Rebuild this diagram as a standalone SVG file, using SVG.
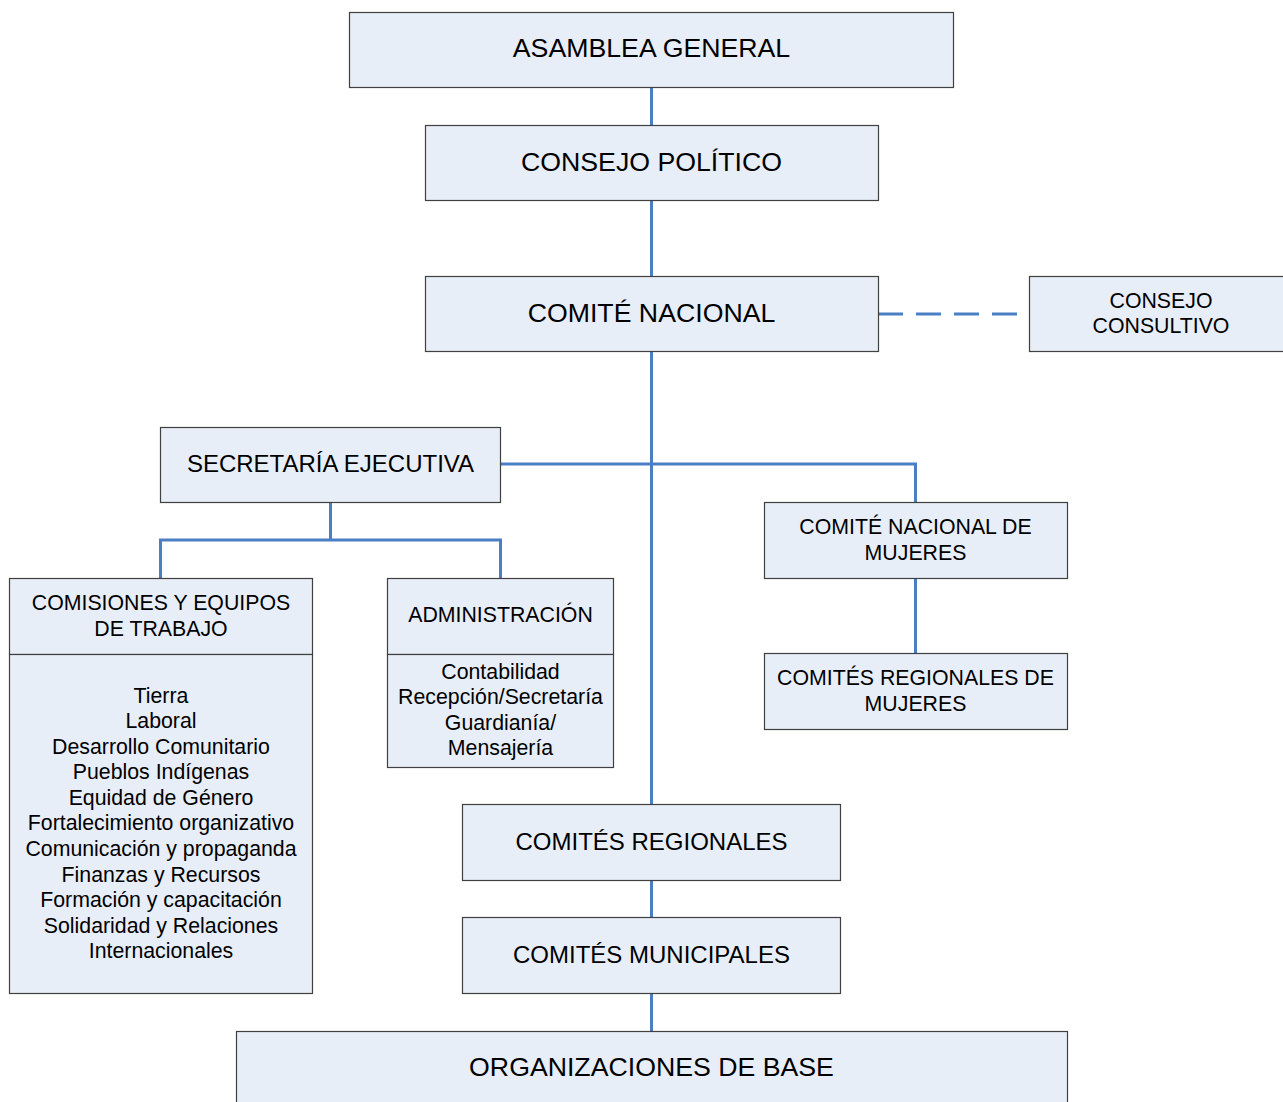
<svg xmlns="http://www.w3.org/2000/svg" width="1283" height="1102" viewBox="0 0 1283 1102">
<style>
.box{fill:#E8EEF7;stroke:#404040;stroke-width:1.2}
.con{fill:none;stroke:#4A7EC5;stroke-width:3}
text{font-family:"Liberation Sans",Arial,sans-serif;fill:#000;text-anchor:middle}
.t1{font-size:26.7px}
.t2{font-size:24px}
.t3{font-size:21.3px}
</style>
<rect width="1283" height="1102" fill="#FFFFFF"/>
<g id="connectors">
<line class="con" x1="651.5" y1="87" x2="651.5" y2="125"/>
<line class="con" x1="651.5" y1="200" x2="651.5" y2="276"/>
<line class="con" x1="651.5" y1="351" x2="651.5" y2="804"/>
<line class="con" x1="878" y1="314" x2="1028" y2="314" stroke-dasharray="25 13"/>
<polyline class="con" points="500,464 915.5,464 915.5,502"/>
<line class="con" x1="915.5" y1="578" x2="915.5" y2="653"/>
<line class="con" x1="330.5" y1="502" x2="330.5" y2="540"/>
<polyline class="con" points="160.5,578 160.5,540 500.5,540 500.5,578"/>
<line class="con" x1="651.5" y1="880" x2="651.5" y2="917"/>
<line class="con" x1="651.5" y1="993" x2="651.5" y2="1031"/>
</g>
<g id="asamblea-general">
<rect class="box" x="349.5" y="12.5" width="604" height="75"/>
<text class="t1" x="651.5" y="57">ASAMBLEA GENERAL</text>
</g>
<g id="consejo-politico">
<rect class="box" x="425.5" y="125.5" width="453" height="75"/>
<text class="t1" x="651.5" y="171">CONSEJO POLÍTICO</text>
</g>
<g id="comite-nacional">
<rect class="box" x="425.5" y="276.5" width="453" height="75"/>
<text class="t1" x="651.5" y="322">COMITÉ NACIONAL</text>
</g>
<g id="consejo-consultivo">
<rect class="box" x="1029.5" y="276.5" width="260" height="75"/>
<text class="t3" x="1161" y="307.5">CONSEJO</text>
<text class="t3" x="1161" y="332.5">CONSULTIVO</text>
</g>
<g id="secretaria-ejecutiva">
<rect class="box" x="160.5" y="427.5" width="340" height="75"/>
<text class="t2" x="330.5" y="471.5">SECRETARÍA EJECUTIVA</text>
</g>
<g id="comite-nacional-mujeres">
<rect class="box" x="764.5" y="502.5" width="303" height="76"/>
<text class="t3" x="915.5" y="534">COMITÉ NACIONAL DE</text>
<text class="t3" x="915.5" y="560">MUJERES</text>
</g>
<g id="comites-regionales-mujeres">
<rect class="box" x="764.5" y="653.5" width="303" height="76"/>
<text class="t3" x="915.5" y="685">COMITÉS REGIONALES DE</text>
<text class="t3" x="915.5" y="711">MUJERES</text>
</g>
<g id="comisiones">
<rect class="box" x="9.5" y="578.5" width="303" height="76"/>
<rect class="box" x="9.5" y="654.5" width="303" height="339"/>
<text class="t3" x="161" y="610">COMISIONES Y EQUIPOS</text>
<text class="t3" x="161" y="635.5">DE TRABAJO</text>
<text class="t3" x="161" y="702.5">Tierra</text>
<text class="t3" x="161" y="728">Laboral</text>
<text class="t3" x="161" y="753.6">Desarrollo Comunitario</text>
<text class="t3" x="161" y="779.2">Pueblos Indígenas</text>
<text class="t3" x="161" y="804.8">Equidad de Género</text>
<text class="t3" x="161" y="830.4">Fortalecimiento organizativo</text>
<text class="t3" x="161" y="856">Comunicación y propaganda</text>
<text class="t3" x="161" y="881.6">Finanzas y Recursos</text>
<text class="t3" x="161" y="907.2">Formación y capacitación</text>
<text class="t3" x="161" y="932.8">Solidaridad y Relaciones</text>
<text class="t3" x="161" y="958.4">Internacionales</text>
</g>
<g id="administracion">
<rect class="box" x="387.5" y="578.5" width="226" height="76"/>
<rect class="box" x="387.5" y="654.5" width="226" height="113"/>
<text class="t3" x="500.5" y="622">ADMINISTRACIÓN</text>
<text class="t3" x="500.5" y="678.5">Contabilidad</text>
<text class="t3" x="500.5" y="704">Recepción/Secretaría</text>
<text class="t3" x="500.5" y="729.6">Guardianía/</text>
<text class="t3" x="500.5" y="755.2">Mensajería</text>
</g>
<g id="comites-regionales">
<rect class="box" x="462.5" y="804.5" width="378" height="76"/>
<text class="t2" x="651.5" y="849.5">COMITÉS REGIONALES</text>
</g>
<g id="comites-municipales">
<rect class="box" x="462.5" y="917.5" width="378" height="76"/>
<text class="t2" x="651.5" y="962.5">COMITÉS MUNICIPALES</text>
</g>
<g id="organizaciones-base">
<rect class="box" x="236.5" y="1031.5" width="831" height="80"/>
<text class="t1" x="651.5" y="1076">ORGANIZACIONES DE BASE</text>
</g>
</svg>
